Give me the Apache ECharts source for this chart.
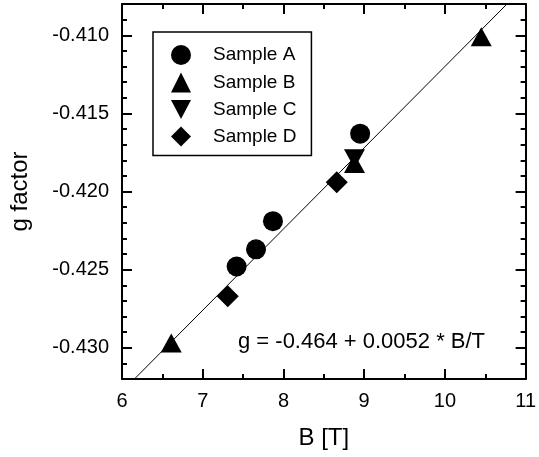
<!DOCTYPE html>
<html>
<head><meta charset="utf-8"></head>
<body style="margin:0;background:#fff">
    <div id='main' style="width:539px;height:457px;"></div>
</body>
<script src="https://cdn.jsdelivr.net/npm/echarts@6.0.0/dist/echarts.min.js"></script>
<script>
// values: [B in T, g factor]
var sampleA = [[7.42, -0.4248], [7.66, -0.4237], [7.87, -0.4219], [8.95, -0.4163]];
var sampleB = [[6.61, -0.4297], [8.88, -0.4182], [10.45, -0.4101]];
var sampleC = [[8.88, -0.4179]];
var sampleD = [[7.31, -0.4267], [8.66, -0.4194]];

// fit from the label in the plot
var fitIntercept = -0.464;
var fitSlope = 0.0052;
var fitB = [6, 11];

var yMajorTicks = [-0.430, -0.425, -0.420, -0.415, -0.410];

var fitLine = fitB.map(function (b) { return [b, fitIntercept + fitSlope * b]; });

var font = 'Liberation Sans, Arial, Helvetica, sans-serif';
var downTri = 'path://M0,0 L20,0 L10,19 Z';

var chartDom = document.getElementById('main');
var myChart = echarts.init(chartDom);
var option;

function xAx(pos, labels) {
  return {
    type: 'value', position: pos, min: 6, max: 11, interval: 1,
    name: labels ? 'B [T]' : '', nameLocation: 'middle', nameGap: 47,
    nameTextStyle: { fontSize: 24, color: '#000', fontFamily: font },
    axisLine: { show: true, onZero: false, lineStyle: { color: '#000', width: 2 } },
    axisTick: { show: true, inside: true, length: 10, lineStyle: { color: '#000', width: 2 } },
    minorTick: { show: true, splitNumber: 2, length: 5, lineStyle: { color: '#000', width: 2 } },
    axisLabel: { show: labels, margin: 12, fontSize: 20, color: '#000', fontFamily: font },
    splitLine: { show: false }
  };
}

function yMinor(pos, labels) {
  return {
    type: 'value', position: pos, min: -0.432, max: -0.408, interval: 0.001,
    name: labels ? 'g factor' : '', nameLocation: 'middle', nameGap: 90,
    nameTextStyle: { fontSize: 24, color: '#000', fontFamily: font },
    axisLine: { show: true, onZero: false, lineStyle: { color: '#000', width: 2 } },
    axisTick: { show: true, inside: true, length: 5, lineStyle: { color: '#000', width: 2 } },
    axisLabel: {
      show: labels, margin: 13, fontSize: 20, color: '#000', fontFamily: font,
      customValues: yMajorTicks,
      formatter: function (v) { return v.toFixed(3); }
    },
    splitLine: { show: false }
  };
}

function yMajor(pos) {
  return {
    type: 'value', position: pos, min: -0.432, max: -0.408, interval: 0.001,
    axisLine: { show: false },
    axisTick: { show: true, inside: true, length: 10, customValues: yMajorTicks, lineStyle: { color: '#000', width: 2 } },
    axisLabel: { show: false },
    splitLine: { show: false }
  };
}

function sc(name, data, symbol, size) {
  return {
    name: name, type: 'scatter', data: data, symbol: symbol, symbolSize: size,
    xAxisIndex: 0, yAxisIndex: 0,
    itemStyle: { color: '#000', opacity: 1 }, z: 3
  };
}

option = {
  backgroundColor: '#fff',
  animation: false,
  grid: { left: 122, right: 11, top: 4, bottom: 78 },
  legend: {
    orient: 'vertical', left: 153, top: 32,
    padding: [13, 15, 9, 18], itemGap: 7.5,
    itemWidth: 20, itemHeight: 20, itemStyle: { opacity: 1 },
    borderColor: '#000', borderWidth: 1.5,
    textStyle: { fontSize: 19, color: '#000', fontFamily: font, padding: [0, 0, 0, 17] },
    data: [
      { name: 'Sample A', icon: 'circle' },
      { name: 'Sample B', icon: 'triangle' },
      { name: 'Sample C', icon: downTri },
      { name: 'Sample D', icon: 'diamond' }
    ]
  },
  graphic: [{
    type: 'text', left: 238, top: 331,
    style: { text: 'g = -0.464 + 0.0052 * B/T', fontSize: 22, fill: '#000', fontFamily: font }
  }],
  xAxis: [xAx('bottom', true), xAx('top', false)],
  yAxis: [yMinor('left', true), yMajor('left'), yMinor('right', false), yMajor('right')],
  series: [
    {
      name: 'fit', type: 'line', data: fitLine, showSymbol: false, clip: true,
      xAxisIndex: 0, yAxisIndex: 0,
      lineStyle: { color: '#000', width: 1 }, z: 2
    },
    sc('Sample A', sampleA, 'circle', 20),
    sc('Sample B', sampleB, 'triangle', [21, 19]),
    sc('Sample C', sampleC, downTri, [21, 19]),
    sc('Sample D', sampleD, 'diamond', 22)
  ]
};

option && myChart.setOption(option);
</script>
</html>
